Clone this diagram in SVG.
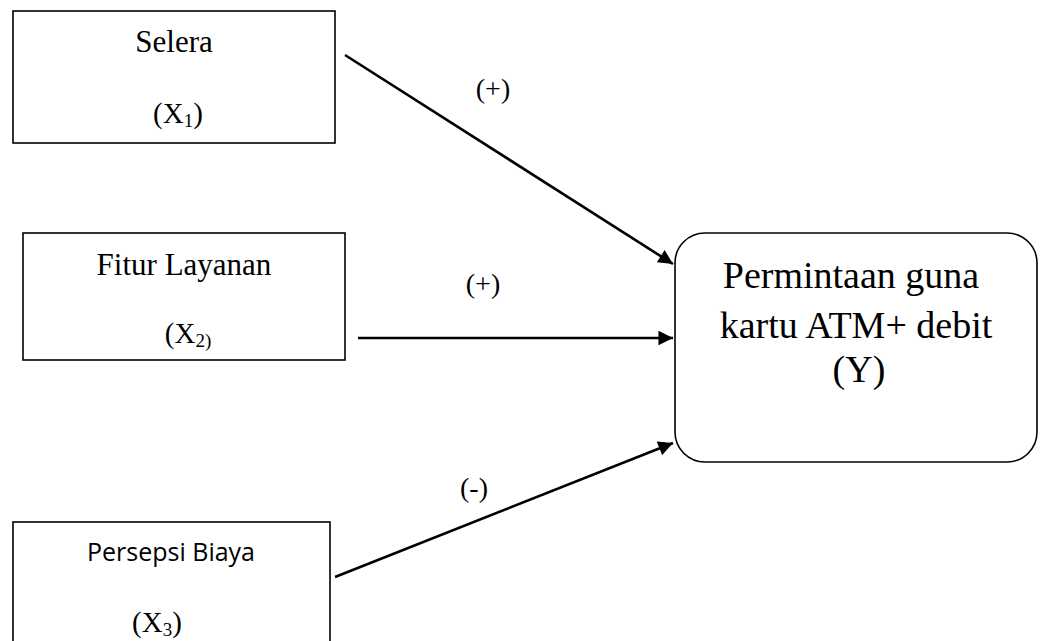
<svg xmlns="http://www.w3.org/2000/svg" width="1040" height="641" viewBox="0 0 1040 641">
<style>
.box{fill:#fff;stroke:#000;stroke-width:1.6}
.t{font-family:"Liberation Serif","Times New Roman",serif;fill:#000;text-anchor:middle}
.s{font-family:"Open Sans","Liberation Sans",sans-serif;fill:#000;text-anchor:middle}
.c{stroke:#000;stroke-width:2.6;fill:none}
</style>
<defs>
<marker id="ah" viewBox="0 0 10 10" refX="10" refY="5" markerWidth="6" markerHeight="5.6" markerUnits="strokeWidth" orient="auto">
<path d="M0,0 L10,5 L0,10 z" fill="#000"/>
</marker>
</defs>
<rect width="1040" height="641" fill="#fff"/>
<g id="x1">
<rect class="box" x="13" y="11" width="322" height="132"/>
<text class="t" x="174" y="52" font-size="31">Selera</text>
<text class="t" x="178" y="123" font-size="29">(X<tspan font-size="19" dy="4">1</tspan><tspan dy="-4">)</tspan></text>
</g>
<g id="x2">
<rect class="box" x="23" y="233" width="322" height="127"/>
<text class="t" x="184" y="275" font-size="31">Fitur Layanan</text>
<text class="t" x="188" y="343" font-size="29">(X<tspan font-size="19" dy="4">2)</tspan></text>
</g>
<g id="x3">
<rect class="box" x="13" y="522" width="317" height="130"/>
<text class="s" x="171" y="561" font-size="25">Persepsi Biaya</text>
<text class="t" x="157" y="632" font-size="29">(X<tspan font-size="19" dy="4">3</tspan><tspan dy="-4">)</tspan></text>
</g>
<g id="y">
<rect class="box" x="675" y="233" width="362" height="229" rx="30" ry="30"/>
<text class="t" x="851" y="288" font-size="38">Permintaan guna</text>
<text class="t" x="856" y="338" font-size="38">kartu ATM+ debit</text>
<text class="t" x="859" y="382" font-size="38">(Y)</text>
</g>
<g id="connectors">
<line class="c" x1="345" y1="55" x2="673" y2="264" marker-end="url(#ah)"/>
<line class="c" x1="358" y1="338" x2="673" y2="338" marker-end="url(#ah)"/>
<line class="c" x1="335" y1="577" x2="673" y2="443" marker-end="url(#ah)"/>
<text class="t" x="493" y="98" font-size="28">(+)</text>
<text class="t" x="483" y="293" font-size="28">(+)</text>
<text class="t" x="474" y="497" font-size="28">(-)</text>
</g>
</svg>
